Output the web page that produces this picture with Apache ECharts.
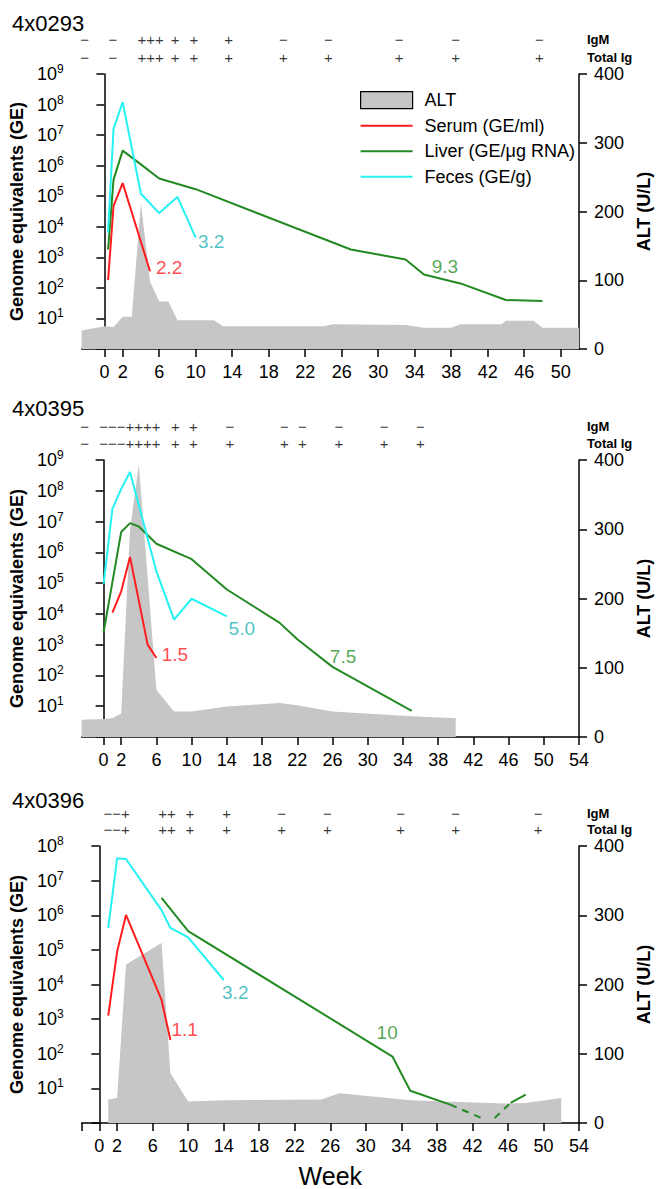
<!DOCTYPE html>
<html><head><meta charset="utf-8">
<script src="https://cdn.jsdelivr.net/npm/echarts@6/dist/echarts.min.js"></script>
<style>html,body{margin:0;padding:0;background:#fff}#c{width:661px;height:1189px}</style>
</head><body><div id="c"></div>
<script>
// ---------- Panel 1: 4x0293 ----------
const p1Title = '4x0293';
const p1XTicks = [0, 2, 6, 10, 14, 18, 22, 26, 30, 34, 38, 42, 46, 50];
const p1AltWeeks = [-2.5, 0, 1, 2, 3, 4, 5, 6, 7, 8, 12, 13, 24, 25, 33, 35, 38, 39, 43.5, 44, 47, 48, 52];
const p1Alt = [27, 33, 32, 47, 47, 212, 98, 69, 69, 42, 42, 33, 33, 36, 35, 31, 31, 36, 36, 41, 41, 31, 31];
const p1SerumWeeks = [0.4, 1, 2, 5];
const p1Serum = [180, 4.8e4, 2.7e5, 350];
const p1LiverWeeks = [0.4, 1, 2, 4, 6, 10, 27, 33, 35, 39, 44, 48];
const p1Liver = [1800, 3.5e5, 3.1e6, 1.1e6, 3.8e5, 1.7e5, 1800, 850, 275, 140, 40, 37];
const p1FecesWeeks = [0.4, 1, 2, 4, 6, 8, 10];
const p1Feces = [6500, 1.6e7, 1.2e8, 1.2e5, 2.8e4, 9.5e4, 4400];
const p1NoteWeeks = [11.7, 7.1, 37.3];
const p1NoteGE = [3200, 470, 490];
const p1NoteText = ['3.2', '2.2', '9.3'];
const p1NoteKind = ['feces', 'serum', 'liver'];
const p1SignWeeks = [-2, 1, 5, 7.6, 9.6, 13.3, 19.1, 23.9, 31.4, 37.4, 46.3];
const p1IgM = ['−', '−', '+++', '+', '+', '+', '−', '−', '−', '−', '−'];
const p1TotalIg = ['−', '−', '+++', '+', '+', '+', '+', '+', '+', '+', '+'];

// ---------- Panel 2: 4x0395 ----------
const p2Title = '4x0395';
const p2XTicks = [0, 2, 6, 10, 14, 18, 22, 26, 30, 34, 38, 42, 46, 50, 54];
const p2AltWeeks = [-2.5, 0, 1, 2, 3, 4, 6, 8, 10, 14, 20, 22, 26, 35, 40];
const p2Alt = [25, 26, 27, 34, 300, 394, 68, 37, 37, 44, 49, 46, 37, 30, 27];
const p2SerumWeeks = [1, 2, 3, 5, 6];
const p2Serum = [1.1e4, 5.4e4, 7.1e5, 1000, 370];
const p2LiverWeeks = [0, 2, 3, 4, 6, 10, 14, 20, 22, 26, 35];
const p2Liver = [2500, 4.6e6, 8.9e6, 6.9e6, 1.9e6, 6e5, 6.2e4, 5100, 1500, 190, 7];
const p2FecesWeeks = [0, 1, 2, 3, 6, 8, 10, 14];
const p2Feces = [9.5e4, 2.6e7, 1.15e8, 4.1e8, 2.4e5, 6500, 3.1e4, 8300];
const p2NoteWeeks = [15.7, 8.1, 27.2];
const p2NoteGE = [3460, 480, 425];
const p2NoteText = ['5.0', '1.5', '7.5'];
const p2NoteKind = ['feces', 'serum', 'liver'];
const p2SignWeeks = [-2, 3, 8, 10, 14, 20, 22, 26, 31, 35];
const p2IgM = ['−', '−−−++++', '+', '+', '−', '−', '−', '−', '−', '−'];
const p2TotalIg = ['−', '−−−++++', '+', '+', '+', '+', '+', '+', '+', '+'];

// ---------- Panel 3: 4x0396 ----------
const p3Title = '4x0396';
const p3XTicks = [-2, 0, 2, 6, 10, 14, 18, 22, 26, 30, 34, 38, 42, 46, 50, 54];
const p3XLabels = [0, 2, 6, 10, 14, 18, 22, 26, 30, 34, 38, 42, 46, 50, 54];
const p3AltWeeks = [1, 2, 3, 7, 8, 10, 14, 25, 27, 35, 45.5, 48, 52];
const p3Alt = [34, 36, 229, 260, 72, 31, 33, 34, 43, 33, 28, 29, 36];
const p3SerumWeeks = [1, 2, 3, 7, 8];
const p3Serum = [1260, 8.9e4, 1.02e6, 3600, 250];
const p3LiverWeeks = [7, 10, 33, 35, 39.5];
const p3Liver = [3.2e6, 3.5e5, 83, 8.5, 3.4];
const p3LiverDashWeeks = [39.5, 43, 43.75, 44.5, 46.3];
const p3LiverDash = [3.4, 1.4, null, 1.4, 3.8];
const p3LiverLateWeeks = [46.3, 48];
const p3LiverLate = [3.8, 6.6];
const p3FecesWeeks = [1, 2, 3, 7, 8, 10, 14];
const p3Feces = [4.3e5, 4.4e7, 4.2e7, 1.4e6, 4.3e5, 2.3e5, 1.35e4];
const p3NoteWeeks = [15.3, 9.6, 32.4];
const p3NoteGE = [5700, 490, 415];
const p3NoteText = ['3.2', '1.1', '10'];
const p3NoteKind = ['feces', 'serum', 'liver'];
const p3SignWeeks = [2, 7.5, 10, 14, 20, 25, 33, 39, 48];
const p3IgM = ['−−+', '++', '+', '+', '−', '−', '−', '−', '−'];
const p3TotalIg = ['−−+', '++', '+', '+', '+', '+', '+', '+', '+'];

const seriesNames = { alt: 'ALT', serum: 'Serum (GE/ml)', liver: 'Liver (GE/μg RNA)', feces: 'Feces (GE/g)' };

// ---------- styles & layout ----------
const FONT = "'Liberation Sans', Arial, Helvetica, sans-serif";
const COLORS = { alt: '#c6c6c6', serum: '#ff1c1c', liver: '#238a23', feces: '#25f2f2' };
const NOTE_COLORS = { serum: '#ff1c1c', liver: '#2a902a', feces: '#22b4b4' };
const LINE_ICON = 'path://M0,0L52,0L52,2L0,2Z';

const panels = [
  { title: p1Title, xMin: -2.5, xMax: 52, yMax: 1e9, ticks: p1XTicks, labels: p1XTicks,
    alt: [p1AltWeeks, p1Alt], serum: [p1SerumWeeks, p1Serum], liver: [p1LiverWeeks, p1Liver], feces: [p1FecesWeeks, p1Feces],
    notes: [p1NoteWeeks, p1NoteGE, p1NoteText, p1NoteKind], signs: [p1SignWeeks, p1IgM, p1TotalIg] },
  { title: p2Title, xMin: -2.5, xMax: 54, yMax: 1e9, ticks: p2XTicks, labels: p2XTicks,
    alt: [p2AltWeeks, p2Alt], serum: [p2SerumWeeks, p2Serum], liver: [p2LiverWeeks, p2Liver], feces: [p2FecesWeeks, p2Feces],
    notes: [p2NoteWeeks, p2NoteGE, p2NoteText, p2NoteKind], signs: [p2SignWeeks, p2IgM, p2TotalIg] },
  { title: p3Title, xMin: -2, xMax: 54, yMax: 1e8, ticks: p3XTicks, labels: p3XLabels,
    alt: [p3AltWeeks, p3Alt], serum: [p3SerumWeeks, p3Serum], liver: [p3LiverWeeks, p3Liver], feces: [p3FecesWeeks, p3Feces],
    notes: [p3NoteWeeks, p3NoteGE, p3NoteText, p3NoteKind], signs: [p3SignWeeks, p3IgM, p3TotalIg],
    extraLiver: [[p3LiverDashWeeks, p3LiverDash, 'dashed'], [p3LiverLateWeeks, p3LiverLate, 'solid']] }
];

const layout = [
  { top: 74, height: 275, headTop: 30, headH: 36, titleTop: 14 },
  { top: 460, height: 277, headTop: 418, headH: 34, titleTop: 399 },
  { top: 846, height: 277, headTop: 805, headH: 32, titleTop: 791 }
];
const LEFT = 80, RIGHT = 68;

function pair(ws, vs) { return ws.map((w, i) => [w, vs[i] == null ? '-' : vs[i]]); }

const axisLineStyle = { color: '#000', width: 1.5 };
const tickLabel = { color: '#000', fontSize: 18, fontFamily: FONT };

const grid = [], xAxis = [], yAxis = [], series = [], title = [];
const N = panels.length;

panels.forEach((p, i) => {
  const L = layout[i];
  grid.push({ left: LEFT, right: RIGHT, top: L.top, height: L.height });
  title.push({ text: p.title, left: 12, top: L.titleTop, padding: 0,
    textStyle: { fontSize: 22, lineHeight: 18, fontWeight: 'normal', color: '#000', fontFamily: FONT } });
  xAxis.push({
    type: 'value', gridIndex: i, min: p.xMin, max: p.xMax,
    name: i === N - 1 ? 'Week' : '', nameLocation: 'middle', nameGap: 40,
    nameTextStyle: { fontSize: 25, color: '#000', fontFamily: FONT },
    axisLine: { show: true, onZero: false, lineStyle: axisLineStyle },
    axisTick: { show: true, length: 8, lineStyle: axisLineStyle, customValues: p.ticks },
    axisLabel: Object.assign({ margin: 14, customValues: p.labels }, tickLabel),
    splitLine: { show: false }
  });
});
// header grids (antibody rows share the week scale of their panel)
panels.forEach((p, i) => {
  const L = layout[i];
  grid.push({ left: LEFT, right: RIGHT, top: L.headTop, height: L.headH });
  xAxis.push({ type: 'value', gridIndex: N + i, min: p.xMin, max: p.xMax, show: false });
});
// left log axes
panels.forEach((p, i) => {
  yAxis.push({
    type: 'log', logBase: 10, gridIndex: i, min: 1, max: p.yMax, position: 'left',
    name: 'Genome equivalents (GE)', nameLocation: 'middle', nameGap: 50, nameRotate: 90,
    nameTextStyle: { fontSize: 18, fontWeight: 'bold', color: '#000', fontFamily: FONT },
    axisLine: { show: true, lineStyle: axisLineStyle },
    axisTick: { show: true, length: 8, lineStyle: axisLineStyle },
    minorTick: { show: false }, splitLine: { show: false },
    axisLabel: {
      margin: 18, color: '#000', fontFamily: FONT,
      formatter: v => { const e = Math.round(Math.log10(v)); return e === 0 ? '' : '{b|10}{s|' + e + '}'; },
      rich: { b: { fontSize: 18, lineHeight: 22, fontFamily: FONT, color: '#000' },
              s: { fontSize: 12, lineHeight: 12, verticalAlign: 'top', fontFamily: FONT, color: '#000' } }
    }
  });
});
// right ALT axes
panels.forEach((p, i) => {
  yAxis.push({
    type: 'value', gridIndex: i, min: 0, max: 400, interval: 100, position: 'right',
    name: 'ALT (U/L)', nameLocation: 'middle', nameGap: 56, nameRotate: 90,
    nameTextStyle: { fontSize: 18, fontWeight: 'bold', color: '#000', fontFamily: FONT },
    axisLine: { show: true, lineStyle: axisLineStyle },
    axisTick: { show: true, length: 8, lineStyle: axisLineStyle },
    splitLine: { show: false },
    axisLabel: Object.assign({ margin: 15 }, tickLabel)
  });
});
// header category axes
panels.forEach((p, i) => {
  yAxis.push({
    type: 'category', gridIndex: N + i, data: ['Total Ig', 'IgM'], position: 'right',
    axisLine: { show: false }, axisTick: { show: false }, splitLine: { show: false },
    axisLabel: { interval: 0, hideOverlap: false, margin: -6, fontSize: 13, lineHeight: 13, fontWeight: 'bold', color: '#000', fontFamily: FONT }
  });
});

const lineBase = { type: 'line', symbol: 'none', showSymbol: false, silent: true, z: 3 };

panels.forEach((p, i) => {
  series.push({
    type: 'line', name: seriesNames.alt, xAxisIndex: i, yAxisIndex: N + i, symbol: 'none', silent: true, z: 1,
    data: pair(p.alt[0], p.alt[1]), lineStyle: { width: 0, color: COLORS.alt },
    areaStyle: { color: COLORS.alt, opacity: 1 },
    itemStyle: { color: COLORS.alt, borderColor: '#000', borderWidth: 1 }
  });
  ['serum', 'liver', 'feces'].forEach(k => {
    series.push(Object.assign({}, lineBase, {
      name: seriesNames[k], xAxisIndex: i, yAxisIndex: i, data: pair(p[k][0], p[k][1]),
      lineStyle: { width: 2, color: COLORS[k] }, itemStyle: { color: COLORS[k] }
    }));
  });
  (p.extraLiver || []).forEach((ex, j) => {
    series.push(Object.assign({}, lineBase, {
      name: 'liver-extra-' + j, xAxisIndex: i, yAxisIndex: i, data: pair(ex[0], ex[1]),
      connectNulls: false,
      lineStyle: { width: 2, color: COLORS.liver, type: ex[2] === 'dashed' ? [7, 6] : 'solid' },
      itemStyle: { color: COLORS.liver }
    }));
  });
  const n = p.notes;
  series.push({
    type: 'scatter', name: 'notes-' + i, xAxisIndex: i, yAxisIndex: i, symbolSize: 0, silent: true, z: 4,
    data: n[0].map((w, k) => ({ value: [w, n[1][k]], name: n[2][k],
      label: { color: NOTE_COLORS[n[3][k]] } })),
    label: { show: true, position: 'inside', formatter: '{b}', fontSize: 19, fontFamily: FONT }
  });
  const s = p.signs;
  [['IgM', s[1]], ['Total Ig', s[2]]].forEach(([row, arr]) => {
    series.push({
      type: 'scatter', name: 'signs-' + i + row, xAxisIndex: N + i, yAxisIndex: 2 * N + i,
      symbolSize: 0, silent: true, clip: false,
      data: s[0].map((w, k) => ({ value: [w, row], name: arr[k] })),
      label: { show: true, position: 'inside', formatter: '{b}', fontSize: 15, lineHeight: 12, color: '#000', fontFamily: FONT }
    });
  });
});

const chart = echarts.init(document.getElementById('c'), null, { renderer: 'svg' });
chart.setOption({
  animation: false,
  backgroundColor: '#fff',
  title: title,
  legend: {
    orient: 'vertical', left: 360, top: 91, padding: 0,
    itemWidth: 52, itemHeight: 17, itemGap: 7.5, selectedMode: false, symbolKeepAspect: true,
    textStyle: { fontSize: 18, lineHeight: 17, color: '#000', fontFamily: FONT, padding: [0, 0, 0, 7] },
    data: [
      { name: seriesNames.alt, icon: 'rect', itemStyle: { color: COLORS.alt, borderColor: '#000', borderWidth: 1.2 } },
      { name: seriesNames.serum, icon: LINE_ICON, itemStyle: { color: COLORS.serum, borderWidth: 0 } },
      { name: seriesNames.liver, icon: LINE_ICON, itemStyle: { color: COLORS.liver, borderWidth: 0 } },
      { name: seriesNames.feces, icon: LINE_ICON, itemStyle: { color: COLORS.feces, borderWidth: 0 } }
    ]
  },
  grid: grid, xAxis: xAxis, yAxis: yAxis, series: series
});
</script></body></html>
